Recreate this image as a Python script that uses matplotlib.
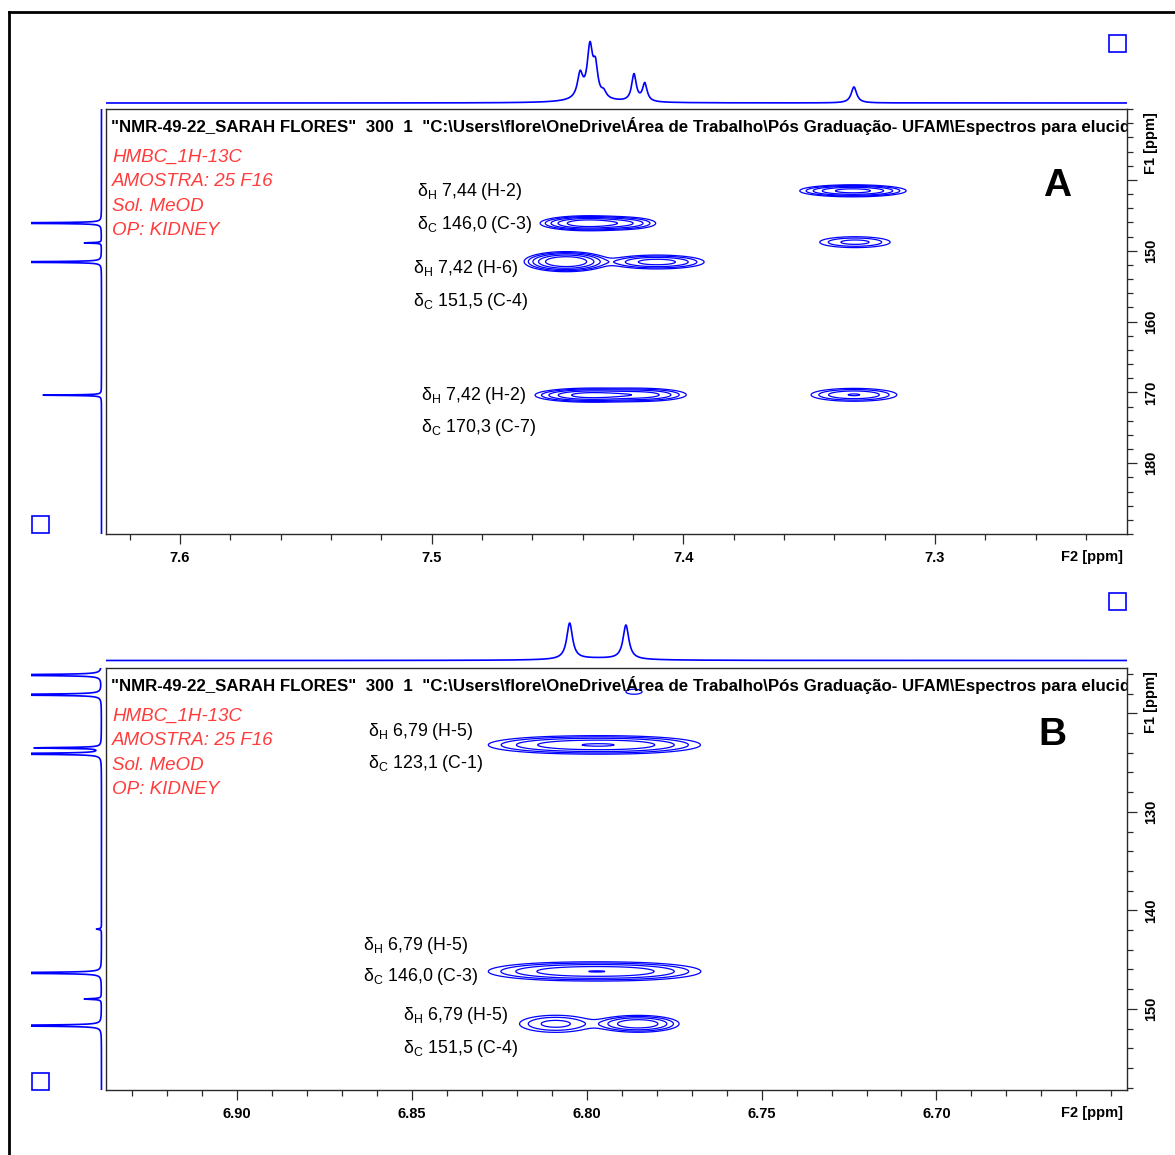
import numpy as np
import matplotlib
matplotlib.use("Agg")
import matplotlib.pyplot as plt
from matplotlib.patches import Rectangle
from matplotlib.lines import Line2D
from matplotlib.ticker import MultipleLocator

plt.rcParams['font.family'] = ['Liberation Sans', 'DejaVu Sans']
plt.rcParams['mathtext.fontset'] = 'custom'
plt.rcParams['mathtext.rm'] = 'Liberation Sans'
plt.rcParams['mathtext.it'] = 'Liberation Sans:italic'
plt.rcParams['mathtext.bf'] = 'Liberation Sans:bold'

W, H = 1175, 1155
BLUE = '#0000ff'
RED = '#ff3c3c'
AXC = '#2a2a2a'

HEADER = ('"NMR-49-22_SARAH FLORES"  300  1  "C:\\Users\\flore\\OneDrive\\Área de Trabalho'
          '\\Pós Graduação- UFAM\\Espectros para elucid')
INFO_LINES = ["HMBC_1H-13C", "AMOSTRA: 25 F16", "Sol. MeOD", "OP: KIDNEY"]

# ---------------- Panel A : aromatic H-2 / H-6 region ----------------
A_f2_lim = (7.6294, 7.2237)          # ppm, 1H
A_f1_lim = (130.0, 190.0)            # ppm, 13C
A_f2_major = [7.6, 7.5, 7.4, 7.3]
A_f2_labels = ["7.6", "7.5", "7.4", "7.3"]
A_f1_major = [140, 150, 160, 170, 180]
A_f1_labels = ["", "150", "160", "170", "180"]

# 1H projection (shift, height, half-width at half-height)
A_h1_shift = [7.4410, 7.4371, 7.4349, 7.4316, 7.4196, 7.4153, 7.3322, 7.4370]
A_h1_height = [24, 50, 28, 6, 27, 18, 16, 3]
A_h1_hwhm = [0.0013, 0.0013, 0.0011, 0.0012, 0.0011, 0.0011, 0.0013, 0.0100]

# 13C projection
A_c13_shift = [146.1, 148.9, 151.6, 170.4]
A_c13_height = [150, 17, 150, 58]
A_c13_hwhm = [0.05, 0.05, 0.05, 0.05]

# HMBC cross peaks: F2, F1, amplitude, sigma F2, sigma F1
A_x_f2 = [7.3326, 7.3318, 7.4379, 7.4232, 7.4466, 7.4105, 7.4371, 7.4172, 7.3322]
A_x_f1 = [141.55, 148.80, 146.13, 146.13, 151.55, 151.60, 170.40, 170.35, 170.35]
A_x_amp = [14, 4, 18, 5, 22, 8, 14, 8, 6]
A_x_sf2 = [0.0092, 0.0084, 0.0079, 0.0067, 0.0067, 0.0092, 0.0095, 0.0090, 0.0090]
A_x_sf1 = [0.37, 0.46, 0.44, 0.45, 0.57, 0.48, 0.43, 0.45, 0.48]

A_labels = [r"δ$_\mathregular{H}$ 7,44 (H-2)", r"δ$_\mathregular{C}$ 146,0 (C-3)",
            r"δ$_\mathregular{H}$ 7,42 (H-6)", r"δ$_\mathregular{C}$ 151,5 (C-4)",
            r"δ$_\mathregular{H}$ 7,42 (H-2)", r"δ$_\mathregular{C}$ 170,3 (C-7)"]
A_label_px = [(417, 191.5), (417, 224.5), (413, 268.5), (413, 301.5), (421, 395.5), (421, 427.5)]

# ---------------- Panel B : H-5 region ----------------
B_f2_lim = (6.9375, 6.6455)
B_f1_lim = (115.39, 158.24)
B_f2_major = [6.90, 6.85, 6.80, 6.75, 6.70]
B_f2_labels = ["6.90", "6.85", "6.80", "6.75", "6.70"]
B_f1_major = [120, 130, 140, 150]
B_f1_labels = ["", "130", "140", "150"]

B_h1_shift = [6.8049, 6.7888, 6.7970]
B_h1_height = [36, 34, 2]
B_h1_hwhm = [0.0010, 0.0010, 0.0120]

B_c13_shift = [116.1, 118.1, 123.5, 124.1, 141.9, 146.35, 149.0, 151.7]
B_c13_height = [150, 150, 66, 150, 5, 150, 17, 150]
B_c13_hwhm = [0.05, 0.05, 0.05, 0.05, 0.05, 0.05, 0.05, 0.05]

B_x_f2 = [6.8052, 6.7894, 6.8058, 6.7892, 6.8089, 6.7854, 6.7865]
B_x_f1 = [123.20, 123.20, 146.20, 146.20, 151.52, 151.52, 117.80]
B_x_amp = [7, 7, 7, 7, 4, 10, 1.3]
B_x_sf2 = [0.0116, 0.0110, 0.0113, 0.0110, 0.0062, 0.0055, 0.0032]
B_x_sf1 = [0.43, 0.43, 0.45, 0.45, 0.52, 0.40, 0.35]

B_labels = [r"δ$_\mathregular{H}$ 6,79 (H-5)", r"δ$_\mathregular{C}$ 123,1 (C-1)",
            r"δ$_\mathregular{H}$ 6,79 (H-5)", r"δ$_\mathregular{C}$ 146,0 (C-3)",
            r"δ$_\mathregular{H}$ 6,79 (H-5)", r"δ$_\mathregular{C}$ 151,5 (C-4)"]
B_label_px = [(368, 731.5), (368, 763.5), (363, 945.5), (363, 976.5), (403, 1015.5), (403, 1048.5)]

LEVELS = [1.0, 1.8, 3.2, 5.8, 10.5]

fig = plt.figure(figsize=(W / 100, H / 100), dpi=100)


def px_axes(l, t, r, b):
    return fig.add_axes([l / W, 1 - b / H, (r - l) / W, (b - t) / H])


def lorentz_sum(x, shifts, heights, hwhm):
    y = np.zeros_like(x)
    for s, h, w in zip(shifts, heights, hwhm):
        y += h / (1 + ((x - s) / w) ** 2)
    return y


def draw_panel(top, bottom, base_y, f2_lim, f1_lim, f2_major, f2_labels, f2_minor,
               f1_major, f1_labels, h1, c13, cross, labels, label_px,
               letter, letter_px, sq_top, sq_bot):
    ax = px_axes(106, top, 1127, bottom)
    ax.set_xlim(*f2_lim)
    ax.set_ylim(f1_lim[1], f1_lim[0])

    # 2D contour map
    f2 = np.linspace(f2_lim[1], f2_lim[0], 1500)
    f1 = np.linspace(f1_lim[0], f1_lim[1], 800)
    X, Y = np.meshgrid(f2, f1)
    Z = np.zeros_like(X)
    for x0, y0, a, sx, sy in zip(*cross):
        Z += a * np.exp(-0.5 * ((X - x0) / sx) ** 2 - 0.5 * ((Y - y0) / sy) ** 2)
    ax.contour(X, Y, Z, levels=LEVELS, colors=BLUE, linewidths=0.9)

    # axes frame and ticks
    for sp in ax.spines.values():
        sp.set_color(AXC)
        sp.set_linewidth(1.0)
    ax.yaxis.tick_right()
    ax.set_xticks(f2_major, f2_labels, fontweight='bold', fontsize=10.5)
    ax.set_yticks(f1_major, f1_labels, fontweight='bold', fontsize=10.5,
                  rotation=90, va='center')
    ax.xaxis.set_minor_locator(MultipleLocator(f2_minor))
    ax.yaxis.set_minor_locator(MultipleLocator(2))
    ax.tick_params(which='both', direction='out', color=AXC, width=0.9,
                   top=False, left=False, labelleft=False)
    ax.tick_params(which='major', length=7, pad=5)
    ax.tick_params(which='minor', length=4)

    # acquisition header (runs past the frame and is cut at its edge) and sample notes
    h_px = bottom - top
    ax.text(5 / 1021, 1 - 17 / h_px, HEADER, transform=ax.transAxes, fontsize=12.2,
            fontweight='bold', va='center', ha='left', clip_on=True)
    for i, line in enumerate(INFO_LINES):
        ax.text(6 / 1021, 1 - (48.5 + 24.4 * i) / h_px, line, transform=ax.transAxes,
                fontsize=13.5, style='italic', color=RED, va='center', ha='left')

    # correlation labels
    for txt, (x, y) in zip(labels, label_px):
        fig.text(x / W, 1 - y / H, txt, fontsize=12.8, va='center', ha='left')

    fig.text(letter_px[0] / W, 1 - letter_px[1] / H, letter, fontsize=28,
             fontweight='bold', ha='center', va='center')

    # 1H projection on top
    tp = px_axes(106, base_y - 64, 1127, base_y + 1)
    tp.set_xlim(*f2_lim)
    tp.set_ylim(-1, 64)
    tp.axis('off')
    xg = np.linspace(f2_lim[1], f2_lim[0], 6000)
    tp.plot(xg, lorentz_sum(xg, *h1), color=BLUE, lw=1.2)

    # 13C projection on the left
    lp = px_axes(31, top, 103, bottom)
    lp.set_xlim(70, -1.5)
    lp.set_ylim(f1_lim[1], f1_lim[0])
    lp.axis('off')
    yg = np.linspace(f1_lim[0], f1_lim[1], 8000)
    lp.plot(lorentz_sum(yg, *c13), yg, color=BLUE, lw=1.2)

    # small marker boxes
    for (x, y) in (sq_top, sq_bot):
        fig.add_artist(Rectangle((x / W, 1 - (y + 17) / H), 17 / W, 17 / H, fill=False,
                                 ec=BLUE, lw=1.2, transform=fig.transFigure))

    # F1/F2 axis titles
    fig.text(1123 / W, 1 - (bottom + 23) / H, "F2 [ppm]", fontsize=10.5,
             fontweight='bold', ha='right', va='center')
    fig.text(1151 / W, 1 - (top + 3) / H, "F1 [ppm]", fontsize=10.5, fontweight='bold',
             rotation=90, ha='center', va='top')
    return ax


draw_panel(109, 534, 103, A_f2_lim, A_f1_lim, A_f2_major, A_f2_labels, 0.02,
           A_f1_major, A_f1_labels,
           (A_h1_shift, A_h1_height, A_h1_hwhm),
           (A_c13_shift, A_c13_height, A_c13_hwhm),
           (A_x_f2, A_x_f1, A_x_amp, A_x_sf2, A_x_sf1),
           A_labels, A_label_px, "A", (1057, 186), (1109, 35), (32, 516))

draw_panel(668, 1090, 660.5, B_f2_lim, B_f1_lim, B_f2_major, B_f2_labels, 0.01,
           B_f1_major, B_f1_labels,
           (B_h1_shift, B_h1_height, B_h1_hwhm),
           (B_c13_shift, B_c13_height, B_c13_hwhm),
           (B_x_f2, B_x_f1, B_x_amp, B_x_sf2, B_x_sf1),
           B_labels, B_label_px, "B", (1052, 735), (1109, 593), (32, 1073))

# outer frame (left and top edges)
fig.add_artist(Line2D([9 / W, 9 / W], [0, 1 - 12 / H], transform=fig.transFigure,
                      color='black', lw=2.0))
fig.add_artist(Line2D([9 / W, 1], [1 - 12 / H, 1 - 12 / H], transform=fig.transFigure,
                      color='black', lw=2.0))

fig.savefig("out.png", dpi=100, facecolor='white')
